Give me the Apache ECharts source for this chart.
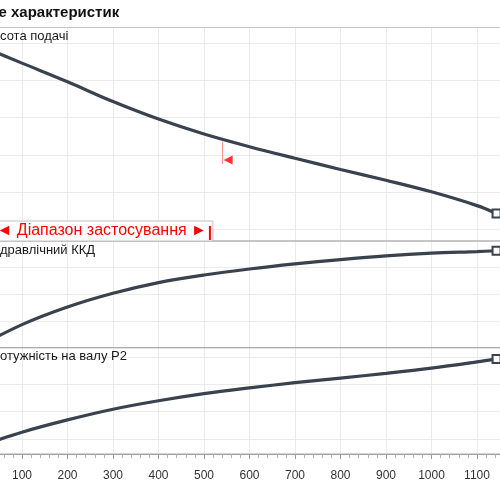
<!DOCTYPE html>
<html>
<head>
<meta charset="utf-8">
<script src="https://cdn.jsdelivr.net/npm/echarts@6/dist/echarts.min.js"></script>
<style>
  html, body { margin: 0; padding: 0; background: #fff; }
  #chart { width: 500px; height: 500px; }
</style>
</head>
<body>
<div id="chart"></div>
<script>
// flow (x axis) and the three pump curves
const flow = [0, 100, 200, 300, 400, 500, 600, 700, 800, 900, 1000, 1100, 1143];
const head = [49.7, 44.6, 39.6, 34.3, 29.6, 25.6, 22.2, 19.1, 16.1, 13.2, 10.1, 6.4, 4.3];
const efficiency = [0, 17.3, 30.5, 40.8, 48.8, 54.5, 59.0, 62.8, 66.1, 68.9, 70.9, 72.1, 72.7];
const power = [7.0, 12.5, 17.0, 20.9, 24.0, 26.6, 28.7, 30.6, 32.3, 34.0, 35.9, 38.2, 39.3];

const panelNames = ["Висота подачі", "Гідравлічний ККД", "Потужність на валу P2"];
const chartTitle = "Поле характеристик";
const rangeLabel = "◄ Діапазон застосування ►";
const appRangeEnd = 513;
const dutyFlow = 540;
const dutyPoint = [[553, 18.6]];
const dutyLine = [23.5, 17.6];

const FONT = "'Liberation Sans', Arial, sans-serif";
const CURVE = "#39424e";
const GRIDLINE = "#ebebeb";

function textWidth(str, font) {
  const ctx = document.createElement("canvas").getContext("2d");
  ctx.font = font;
  return ctx.measureText(str).width;
}

const chart = echarts.init(document.getElementById("chart"), null, { renderer: "canvas" });

const L = -23.5, W = 546;
// frame grids (panels) and data grids (curves)
const frames = [
  { top: 27.5, height: 213.5 },
  { top: 241, height: 106.7 },
  { top: 347.7, height: 106.3 },
];
const dataGrids = [
  { top: 43, height: 186.5 },
  { top: 241, height: 106.7 },
  { top: 357, height: 82 },
];
const yRanges = [
  { min: 0, max: 50, interval: 10 },
  { min: 0, max: 80, interval: 20 },
  { min: 10, max: 40, interval: 10 },
];

const grids = [];
const xAxes = [];
const yAxes = [];
frames.forEach((f, i) => {
  grids.push({
    left: L, width: W, top: f.top, height: f.height,
    outerBoundsMode: "none", containLabel: false,
    show: true, borderColor: i === 0 ? "#c4c4c4" : "#aaaaaa", borderWidth: 1,
    backgroundColor: "transparent", z: 3,
  });
  const bottom = i === 2;
  xAxes.push({
    type: "value", gridIndex: i, min: 0, max: 1200, interval: 100,
    axisLine: { show: bottom, lineStyle: { color: "#9a9a9a" } },
    axisTick: { show: bottom, length: 5, lineStyle: { color: "#9a9a9a" } },
    minorTick: { show: bottom, splitNumber: 5, length: 4, lineStyle: { color: "#b0b0b0" } },
    axisLabel: {
      show: bottom, color: "#333", fontSize: 12, fontFamily: FONT, margin: 16,
      formatter: (v) => String(v),
    },
    splitLine: { show: true, lineStyle: { color: GRIDLINE, width: 1 } },
  });
  yAxes.push({ type: "value", gridIndex: i, min: 0, max: 1, show: false });
});
dataGrids.forEach((g, i) => {
  grids.push({
    left: L, width: W, top: g.top, height: g.height, show: false,
    outerBoundsMode: "none", containLabel: false,
  });
  xAxes.push({ type: "value", gridIndex: 3 + i, min: 0, max: 1200, show: false });
  yAxes.push({
    type: "value", gridIndex: 3 + i,
    min: yRanges[i].min, max: yRanges[i].max, interval: yRanges[i].interval,
    axisLine: { show: false }, axisTick: { show: false }, axisLabel: { show: false },
    splitLine: {
      show: true, showMinLine: i !== 1, showMaxLine: i !== 1,
      lineStyle: { color: GRIDLINE, width: 1 },
    },
  });
});

function curve(values, idx) {
  const last = values.length - 1;
  return {
    type: "line",
    xAxisIndex: 3 + idx,
    yAxisIndex: 3 + idx,
    data: flow.map((q, k) => [q, values[k]]),
    smooth: 0.35,
    clip: false,
    showSymbol: true,
    symbol: (v, p) => (p.dataIndex === last ? "rect" : "none"),
    symbolSize: 8,
    lineStyle: { color: CURVE, width: 3.2 },
    itemStyle: { color: "#ffffff", borderColor: CURVE, borderWidth: 2 },
    z: 4,
    silent: true,
  };
}

const titleFont = "bold 15px " + FONT;
const labelFont = "13px " + FONT;

const option = {
  animation: false,
  backgroundColor: "#ffffff",
  title: [
    {
      text: chartTitle,
      left: 11 - textWidth("Поле ", titleFont), top: 5, padding: 0,
      textStyle: { fontSize: 15, fontWeight: "bold", color: "#111", fontFamily: FONT },
    },
    {
      text: panelNames[0],
      left: 0 - textWidth("Ви", labelFont), top: 30, padding: 0,
      textStyle: { fontSize: 13, fontWeight: "normal", color: "#1a1a1a", fontFamily: FONT },
    },
    {
      text: panelNames[1],
      left: 0 - textWidth("Гі", labelFont), top: 244, padding: 0,
      textStyle: { fontSize: 13, fontWeight: "normal", color: "#1a1a1a", fontFamily: FONT },
    },
    {
      text: panelNames[2],
      left: 0 - textWidth("П", labelFont), top: 350, padding: 0,
      textStyle: { fontSize: 13, fontWeight: "normal", color: "#1a1a1a", fontFamily: FONT },
    },
  ],
  grid: grids,
  xAxis: xAxes,
  yAxis: yAxes,
  series: [
    curve(head, 0),
    curve(efficiency, 1),
    curve(power, 2),
    {
      type: "scatter",
      xAxisIndex: 3, yAxisIndex: 3,
      data: dutyPoint,
      symbol: "triangle",
      symbolRotate: 90,
      symbolSize: 9,
      itemStyle: { color: "#ff0000" },
      silent: true,
      z: 5,
      markLine: {
        silent: true,
        symbol: "none",
        label: { show: false },
        lineStyle: { color: "#ff9090", width: 1, type: "solid" },
        data: [[{ coord: [dutyFlow, dutyLine[0]] }, { coord: [dutyFlow, dutyLine[1]] }]],
      },
    },
  ],
};

chart.setOption(option);

// application range box, anchored to the x scale
const xEnd = chart.convertToPixel({ xAxisIndex: 3 }, appRangeEnd);
chart.setOption({
  graphic: [
    {
      type: "rect", z: 10,
      shape: { x: -40, y: 221, width: xEnd + 3 + 40, height: 20 },
      style: { fill: "#ffffff", stroke: "#c0c0c0", lineWidth: 1 },
    },
    {
      type: "text", z: 11,
      x: xEnd - 3, y: 231,
      style: {
        text: rangeLabel, fill: "#ff0000", font: "16px " + FONT,
        align: "right", verticalAlign: "middle",
      },
    },
    {
      type: "line", z: 11,
      shape: { x1: xEnd, y1: 226, x2: xEnd, y2: 240 },
      style: { stroke: "#ff0000", lineWidth: 2 },
    },
  ],
});
</script>
</body>
</html>
